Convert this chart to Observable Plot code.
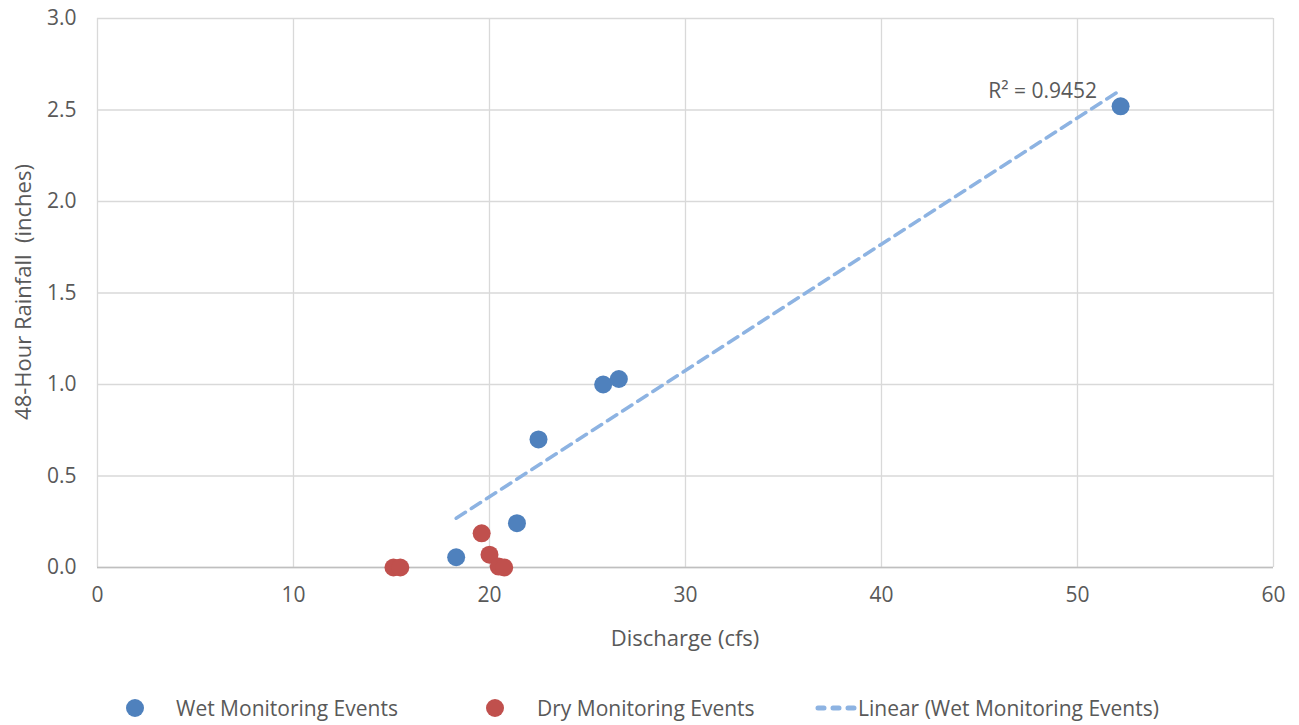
<!DOCTYPE html>
<html><head><meta charset="utf-8">
<script src="https://cdn.jsdelivr.net/npm/d3@7"></script>
<script src="https://cdn.jsdelivr.net/npm/@observablehq/plot@0.6"></script>
<style>
body{margin:0;background:#fff;font-family:"Open Sans",sans-serif;}
#wrap{position:relative;width:1299px;height:725px;}
#wrap svg text{font-size:21px;}
.leg{position:absolute;top:694px;font-size:21px;color:#595959;display:flex;align-items:center;height:28px;white-space:nowrap;}
.dot{width:18px;height:18px;border-radius:50%;display:inline-block;}
.lab{position:absolute;font-size:22px;color:#595959;white-space:pre;line-height:1;}
</style></head>
<body><div id="wrap"></div>
<script>
const wetX = [18.3, 21.4, 22.5, 25.8, 26.6, 52.2];
const wetY = [0.056, 0.242, 0.70, 1.00, 1.03, 2.52];
const dryX = [15.1, 15.45, 19.6, 20.0, 20.47, 20.75];
const dryY = [0.0, 0.0, 0.187, 0.07, 0.005, 0.0];
const xTicks = [0, 10, 20, 30, 40, 50, 60];
const yTicks = [0, 0.5, 1.0, 1.5, 2.0, 2.5, 3.0];
const annot = [{x: 51.0, y: 2.605, label: "R² = 0.9452"}];
const seriesNames = ["Wet Monitoring Events", "Dry Monitoring Events", "Linear (Wet Monitoring Events)"];
const xLabel = "Discharge (cfs)";
const yLabel = "48-Hour Rainfall  (inches)";

const wet = wetX.map((x, i) => ({x, y: wetY[i]}));
const dry = dryX.map((x, i) => ({x, y: dryY[i]}));

const chart = Plot.plot({
  width: 1299, height: 665,
  marginLeft: 97, marginRight: 26, marginTop: 18, marginBottom: 98,
  style: {fontFamily: "Open Sans, sans-serif", fontSize: "21px", color: "#595959", background: "#fff"},
  x: {domain: [0, 60], label: null},
  y: {domain: [0, 3], label: null},
  marks: [
    Plot.gridX(xTicks, {stroke: "#d9d9d9", strokeOpacity: 1, strokeWidth: 1.3}),
    Plot.gridY(yTicks, {stroke: "#d9d9d9", strokeOpacity: 1, strokeWidth: 1.3}),
    Plot.ruleY([0], {stroke: "#bfbfbf", strokeWidth: 1.5}),
    Plot.axisX({ticks: xTicks, tickSize: 0, tickPadding: 20, label: null, fontSize: 21}),
    Plot.axisY({ticks: yTicks, tickSize: 0, tickPadding: 21, tickFormat: d3.format(".1f"), label: null, fontSize: 21}),
    Plot.linearRegressionY(wet, {x: "x", y: "y", ci: 0, stroke: "#8db3e2", strokeWidth: 3.5, strokeDasharray: "11,7", strokeLinecap: "round"}),
    Plot.dot(dry, {x: "x", y: "y", r: 9, fill: "#c0504d"}),
    Plot.dot(wet, {x: "x", y: "y", r: 9, fill: "#4f81bd"}),
    Plot.text(annot, {x: "x", y: "y", text: "label", textAnchor: "end", fill: "#595959", fontSize: 21})
  ]
});
const wrap = document.getElementById("wrap");
wrap.appendChild(chart);

// axis titles
const xl = document.createElement("div");
xl.className = "lab"; xl.textContent = xLabel;
xl.style.left = "685px"; xl.style.top = "637px"; xl.style.transform = "translate(-50%,-50%)";
wrap.appendChild(xl);
const yl = document.createElement("div");
yl.className = "lab"; yl.textContent = yLabel;
yl.style.left = "22px"; yl.style.top = "292px"; yl.style.transform = "translate(-50%,-50%) rotate(-90deg)";
wrap.appendChild(yl);

const legend = [
  {left: 126, kind: "dot", color: "#4f81bd", label: seriesNames[0], textLeft: 176},
  {left: 486, kind: "dot", color: "#c0504d", label: seriesNames[1], textLeft: 537},
  {left: 813, kind: "line", color: "#8db3e2", label: seriesNames[2], textLeft: 858}
];
for (const l of legend) {
  const m = document.createElement("div");
  m.className = "leg";
  m.style.left = l.left + "px";
  if (l.kind === "dot") {
    m.innerHTML = `<span class="dot" style="background:${l.color}"></span>`;
  } else {
    m.innerHTML = `<svg width="44" height="10"><line x1="5" y1="5" x2="41" y2="5" stroke="${l.color}" stroke-width="5" stroke-dasharray="6,9" stroke-linecap="round"/></svg>`;
  }
  wrap.appendChild(m);
  const t = document.createElement("div");
  t.className = "leg";
  t.style.left = l.textLeft + "px";
  t.textContent = l.label;
  wrap.appendChild(t);
}
</script></body></html>
